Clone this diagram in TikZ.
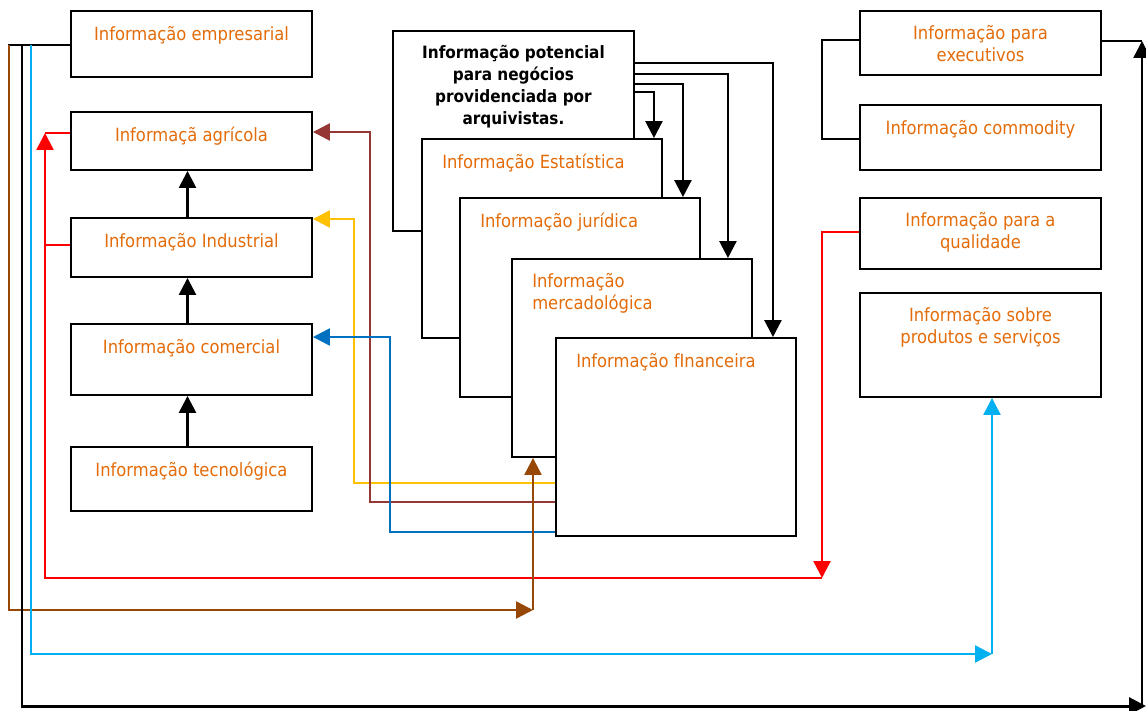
\documentclass[tikz,border=0pt]{standalone}
\usepackage{fontspec}
\setmainfont{DejaVu Sans Condensed}
\usetikzlibrary{arrows.meta,positioning}

\definecolor{orangetext}{HTML}{E46C0A}
\definecolor{yelline}{HTML}{FFC000}
\definecolor{rustline}{HTML}{953735}
\definecolor{blueline}{HTML}{0070C0}
\definecolor{brownline}{HTML}{984806}
\definecolor{skyline}{HTML}{00B0F0}

\begin{document}
\begin{tikzpicture}[x=1pt, y=-1pt,
    box/.style={draw, fill=white, line width=1.9pt, inner sep=0pt, minimum width=241pt},
    note/.style={inner sep=0pt, text=orangetext, font=\fontsize{18.2}{22}\selectfont,
        execute at begin node={\rule{0pt}{15.5pt}}},
    flow/.style={line width=2.4pt, -{Triangle[width=17pt,length=17pt]}}]

\useasboundingbox (0, 0) rectangle (1146, 711);

\node [box, minimum height=66pt] (empresarial) at (191.5, 44) {};
\node [note, below=15pt of empresarial.north] (empresarial-txt) {Informação empresarial};
\node [box, minimum height=58pt] (agricola) at (191.5, 141) {};
\node [note, below=15pt of agricola.north] (agricola-txt) {Informaçã agrícola};
\node [box, minimum height=59pt] (industrial) at (191.5, 247.5) {};
\node [note, below=15pt of industrial.north] (industrial-txt) {Informação Industrial};
\node [box, minimum height=71pt] (comercial) at (191.5, 359.5) {};
\node [note, below=15pt of comercial.north] (comercial-txt) {Informação comercial};
\node [box, minimum height=64pt] (tecnologica) at (191.5, 479) {};
\node [note, below=15pt of tecnologica.north] (tecnologica-txt) {Informação tecnológica};

\node [box, minimum height=200pt] (potencial) at (513.5, 131) {};
\node [note, text=black, align=center, font=\fontsize{17}{22}\selectfont\bfseries,
    below=15pt of potencial.north] (potencial-txt)
    {Informação potencial\\para negócios\\providenciada por\\arquivistas.};
\node [box, minimum width=240pt, minimum height=199pt] (estatistica) at (542, 238.5) {};
\node [note, below right=15pt and 21pt of estatistica.north west] (estatistica-txt) {Informação Estatística};
\node [box, minimum width=240pt, minimum height=199pt] (juridica) at (580, 297.5) {};
\node [note, below right=15pt and 21pt of juridica.north west] (juridica-txt) {Informação jurídica};
\node [box, minimum width=240pt, minimum height=198pt] (mercadologica) at (632, 358) {};
\node [note, align=left, below right=15pt and 21pt of mercadologica.north west] (mercadologica-txt) {Informação\\mercadológica};
\node [box, minimum width=240pt, minimum height=198pt] (financeira) at (676, 437) {};
\node [note, below right=15pt and 21pt of financeira.north west] (financeira-txt) {Informação fInanceira};

\node [box, minimum height=64pt] (executivos) at (980.5, 43) {};
\node [note, align=center, below=15pt of executivos.north] (executivos-txt) {Informação para\\executivos};
\node [box, minimum height=65pt] (commodity) at (980.5, 137.5) {};
\node [note, below=15pt of commodity.north] (commodity-txt) {Informação commodity};
\node [box, minimum height=71pt] (qualidade) at (980.5, 233.5) {};
\node [note, align=center, below=15pt of qualidade.north] (qualidade-txt) {Informação para a\\qualidade};
\node [box, minimum height=104pt] (produtos) at (980.5, 345) {};
\node [note, align=center, below=15pt of produtos.north] (produtos-txt) {Informação sobre\\produtos e serviços};

\draw [flow, line width=2.6pt] ([xshift=-4pt]tecnologica.north) -- ([xshift=-4pt]comercial.south);
\draw [flow, line width=2.6pt] ([xshift=-4pt]comercial.north) -- ([xshift=-4pt]industrial.south);
\draw [flow, line width=2.6pt] ([xshift=-4pt]industrial.north) -- ([xshift=-4pt]agricola.south);

\draw [flow] (potencial.east |- 0, 92) -| ([xshift=-9pt]estatistica.north east);
\draw [flow] (potencial.east |- 0, 84) -| ([xshift=-18pt]juridica.north east);
\draw [flow] (potencial.east |- 0, 74) -| ([xshift=-25pt]mercadologica.north east);
\draw [flow] (potencial.east |- 0, 63) -| ([xshift=-24pt]financeira.north east);

\draw [flow, color=yelline] (financeira.west |- 0, 483) -| (354, 219) -- (industrial.east |- 0, 219);
\draw [flow, color=rustline] (financeira.west |- 0, 502) -| (370, 132) -- (agricola.east |- 0, 132);
\draw [flow, color=blueline] (financeira.west |- 0, 532) -| (390, 337) -- (comercial.east |- 0, 337);

\draw [flow, color=red] (qualidade.west |- 0, 232) -| (822, 578);
\draw [flow, color=red] (822, 578) -| (45, 133);
\draw [line width=2.4pt, color=red] (45, 133) -- (agricola.west |- 0, 133);
\draw [line width=2.4pt, color=red] (45, 245) -- (industrial.west |- 0, 245);

\draw [line width=1.4pt] (empresarial.west |- 0, 45) -- (8, 45);
\draw [flow, color=brownline] (9, 45) |- (533, 610);
\draw [flow, color=brownline] (533, 610) -- (mercadologica.south -| 533, 0);
\draw [flow, color=skyline] (31, 45) |- (992, 654);
\draw [flow, color=skyline] (992, 654) -- (produtos.south -| 992, 0);
\draw [line width=1.4pt] (22, 45) -- (22, 706);
\draw [flow, line width=3pt] (21, 706) -- (1146, 706);
\draw [flow] (1142, 706) -- (1142, 41);
\draw [line width=1.8pt] (executivos.east |- 0, 41) -- (1142, 41);
\draw [line width=1.8pt] (executivos.west |- 0, 40) -- (822, 40) |- (commodity.west |- 0, 139);

\end{tikzpicture}
\end{document}
